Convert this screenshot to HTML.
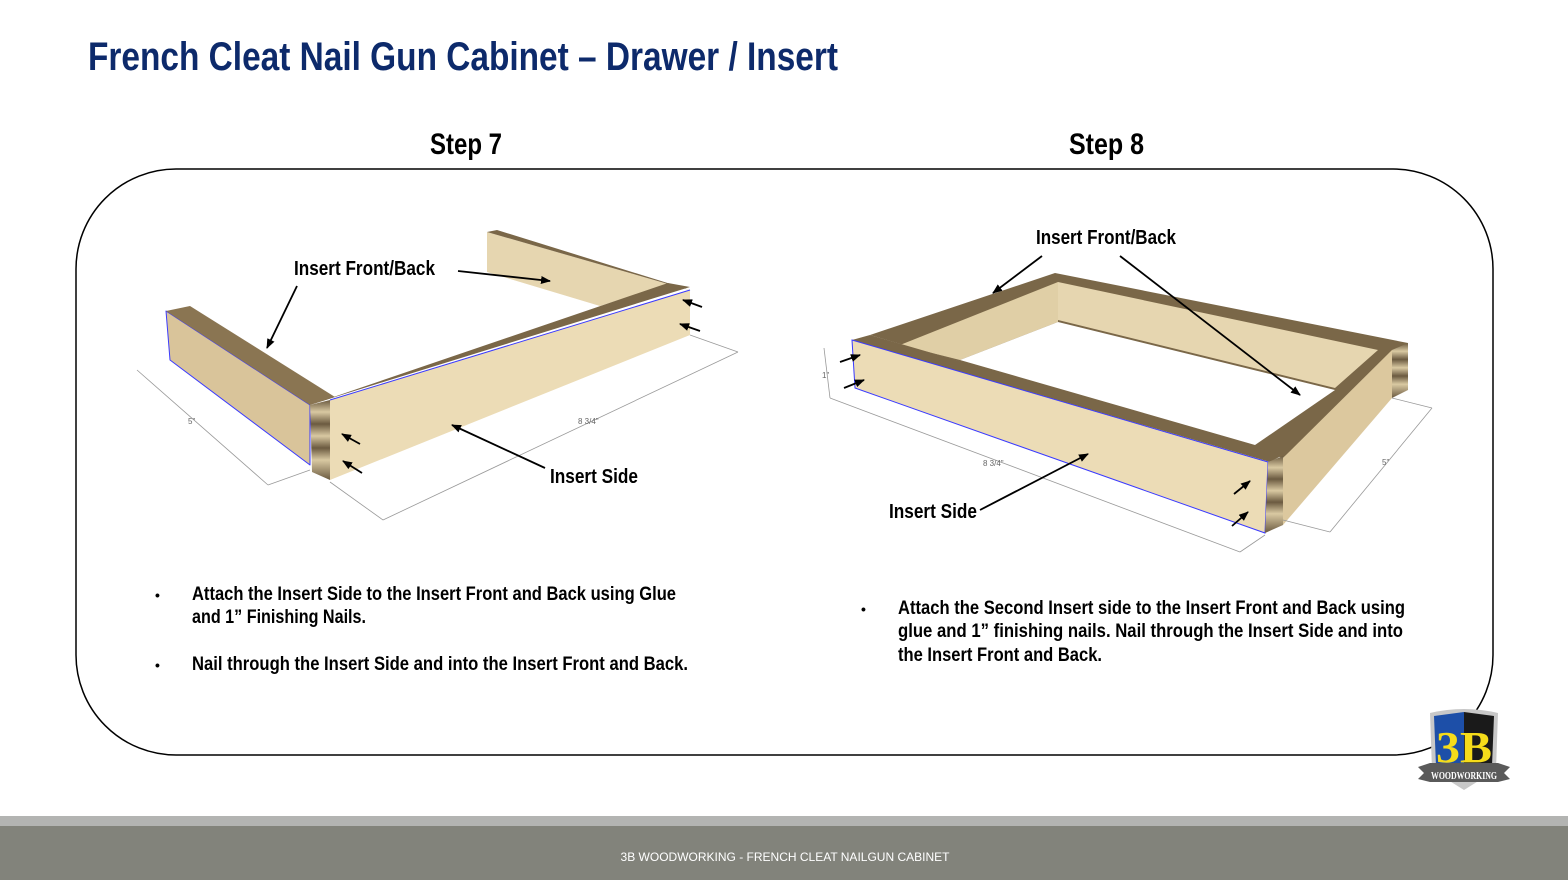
<!DOCTYPE html>
<html><head><meta charset="utf-8"><style>
html,body{margin:0;padding:0;background:#fff;width:1568px;height:880px;overflow:hidden}
svg{display:block}
.c{font-family:"Liberation Sans Narrow","Liberation Sans",sans-serif;font-weight:bold}
</style></head><body>
<svg width="1568" height="880" viewBox="0 0 1568 880" xmlns="http://www.w3.org/2000/svg">
<defs>
<linearGradient id="ply" x1="0" y1="0" x2="0" y2="1">
<stop offset="0" stop-color="#6b5a40"/><stop offset="0.15" stop-color="#d9c9a2"/><stop offset="0.3" stop-color="#6b5a40"/><stop offset="0.45" stop-color="#d9c9a2"/><stop offset="0.6" stop-color="#6b5a40"/><stop offset="0.75" stop-color="#d9c9a2"/><stop offset="1" stop-color="#6b5a40"/>
</linearGradient>
<marker id="ah" markerWidth="10" markerHeight="8" refX="9" refY="4" orient="auto" markerUnits="userSpaceOnUse"><path d="M0,0 L10,4 L0,8 z" fill="#000"/></marker>
</defs>
<text x="88" y="70" class="c" font-size="40" fill="#0d2a6b" textLength="750" lengthAdjust="spacingAndGlyphs">French Cleat Nail Gun Cabinet – Drawer / Insert</text>
<text x="430" y="154" class="c" font-size="30" fill="#000" textLength="72" lengthAdjust="spacingAndGlyphs">Step 7</text>
<text x="1069" y="154" class="c" font-size="30" fill="#000" textLength="75" lengthAdjust="spacingAndGlyphs">Step 8</text>
<rect x="76" y="169" width="1417" height="586" rx="100" fill="none" stroke="#000" stroke-width="1.5"/>

<!-- Step 7 -->
<g stroke-linejoin="round">
<polygon points="487,232 668,284 600,306 487,272" fill="#e6d6b0"/>
<polygon points="487,232 497,230 690,290 668,284" fill="#7a6748"/>
<polygon points="166,311 170,360 310,465 310,405" fill="#d9c49a" stroke="#3a3aff" stroke-width="1"/>
<polygon points="166,311 190,306 335,397 310,405" fill="#8a7552"/>
<polygon points="310,405 335,397 690,287 668,283" fill="#7a6748"/>
<polygon points="310,405 330,400 330,480 312,472" fill="url(#ply)"/>
<polygon points="330,400 690,290 690,335 330,480" fill="#ecdcb6"/>
<line x1="330" y1="400" x2="690" y2="290" stroke="#3a3aff" stroke-width="1"/>
</g>
<g stroke="#999" stroke-width="0.8" fill="none">
<line x1="137" y1="370" x2="268" y2="485"/><line x1="268" y1="485" x2="310" y2="470"/>
<line x1="383" y1="520" x2="738" y2="352"/><line x1="330" y1="482" x2="383" y2="520"/><line x1="690" y1="335" x2="738" y2="352"/>
</g>
<text x="188" y="424" font-family="Liberation Sans" font-size="8" fill="#666">5"</text>
<text x="578" y="424" font-family="Liberation Sans" font-size="8" fill="#666">8 3/4"</text>
<g stroke="#000" stroke-width="1.8" fill="none" marker-end="url(#ah)">
<line x1="297" y1="286" x2="267" y2="348"/>
<line x1="458" y1="271" x2="550" y2="281"/>
<line x1="545" y1="468" x2="452" y2="425"/>
<line x1="360" y1="444" x2="342" y2="434"/>
<line x1="362" y1="473" x2="343" y2="461"/>
<line x1="702" y1="307" x2="683" y2="300"/>
<line x1="700" y1="331" x2="680" y2="324"/>
</g>
<text x="294" y="275" class="c" font-size="20" textLength="141" lengthAdjust="spacingAndGlyphs">Insert Front/Back</text>
<text x="550" y="483" class="c" font-size="20" textLength="88" lengthAdjust="spacingAndGlyphs">Insert Side</text>

<!-- Step 8 -->
<g>
<polygon points="870,335 1055,273 1408,343 1283,458 1255,448" fill="#7a6748"/>
<polygon points="900,345 1058,282 1058,322 960,360" fill="#e0cfa6"/>
<polygon points="1058,282 1378,350 1335,388 1058,320" fill="#e6d6b0"/>
<polygon points="960,360 1058,322 1335,390 1255,445" fill="#fff"/>
<polygon points="1283,458 1392,350 1392,398 1283,525" fill="#dcc89e"/>
<polygon points="1392,350 1408,343 1408,390 1392,398" fill="url(#ply)"/>
<polygon points="852,340 870,335 1283,455 1270,462" fill="#7a6748"/>
<polygon points="852,340 1268,462 1265,533 855,388" fill="#ecdcb6" stroke="#3a3aff" stroke-width="1"/>
<polygon points="1268,462 1283,456 1283,525 1265,533" fill="url(#ply)"/>
</g>
<g stroke="#999" stroke-width="0.8" fill="none">
<line x1="824" y1="348" x2="830" y2="398"/><line x1="830" y1="398" x2="1240" y2="552"/><line x1="1240" y1="552" x2="1265" y2="535"/>
<line x1="1330" y1="532" x2="1432" y2="408"/><line x1="1283" y1="520" x2="1330" y2="532"/><line x1="1392" y1="398" x2="1432" y2="408"/>
</g>
<text x="822" y="378" font-family="Liberation Sans" font-size="8" fill="#666">1"</text>
<text x="983" y="466" font-family="Liberation Sans" font-size="8" fill="#666">8 3/4"</text>
<text x="1382" y="465" font-family="Liberation Sans" font-size="8" fill="#666">5"</text>
<g stroke="#000" stroke-width="1.8" fill="none" marker-end="url(#ah)">
<line x1="1042" y1="256" x2="993" y2="293"/>
<line x1="1120" y1="256" x2="1300" y2="395"/>
<line x1="980" y1="510" x2="1088" y2="454"/>
<line x1="840" y1="362" x2="860" y2="355"/>
<line x1="844" y1="388" x2="864" y2="380"/>
<line x1="1234" y1="494" x2="1250" y2="481"/>
<line x1="1232" y1="526" x2="1248" y2="512"/>
</g>
<text x="1036" y="244" class="c" font-size="20" textLength="140" lengthAdjust="spacingAndGlyphs">Insert Front/Back</text>
<text x="889" y="518" class="c" font-size="20" textLength="88" lengthAdjust="spacingAndGlyphs">Insert Side</text>

<!-- bullets -->
<g class="c" font-size="19" fill="#000">
<text x="155" y="600" font-size="14">•</text>
<text x="192" y="600" textLength="484" lengthAdjust="spacingAndGlyphs">Attach the Insert Side to the Insert Front and Back using Glue</text>
<text x="192" y="623" textLength="174" lengthAdjust="spacingAndGlyphs">and 1” Finishing Nails.</text>
<text x="155" y="670" font-size="14">•</text>
<text x="192" y="670" textLength="496" lengthAdjust="spacingAndGlyphs">Nail through the Insert Side and into the Insert Front and Back.</text>
<text x="861" y="614" font-size="14">•</text>
<text x="898" y="614" textLength="507" lengthAdjust="spacingAndGlyphs">Attach the Second Insert side to the Insert Front and Back using</text>
<text x="898" y="637" textLength="505" lengthAdjust="spacingAndGlyphs">glue and 1” finishing nails.  Nail through the Insert Side and into</text>
<text x="898" y="661" textLength="204" lengthAdjust="spacingAndGlyphs">the Insert Front and Back.</text>
</g>

<!-- logo -->
<path d="M1430,713 Q1464,705 1498,713 L1496,770 L1464,790 L1432,770 Z" fill="#c8c8c8"/>
<path d="M1434,716 L1464,712 L1464,780 L1436,766 Z" fill="#1d4fa8"/>
<path d="M1464,712 L1494,716 L1492,766 L1464,780 Z" fill="#1a1a1a"/>
<text x="1464" y="762" text-anchor="middle" font-family="Liberation Serif" font-weight="bold" font-size="44" fill="#f5dc1a" textLength="56" lengthAdjust="spacingAndGlyphs">3B</text>
<polygon points="1418,767 1430,763 1498,763 1510,767 1504,773 1510,779 1498,782 1430,782 1418,779 1424,773" fill="#5a5a5a"/>
<text x="1464" y="779" text-anchor="middle" font-family="Liberation Serif" font-weight="bold" font-size="10" fill="#fff" textLength="66" lengthAdjust="spacingAndGlyphs">WOODWORKING</text>

<!-- footer -->
<rect x="0" y="816" width="1568" height="10" fill="#b3b4b2"/>
<rect x="0" y="826" width="1568" height="54" fill="#82837b"/>
<text x="785" y="861" text-anchor="middle" font-family="Liberation Sans" font-size="12" fill="#fff">3B WOODWORKING - FRENCH CLEAT NAILGUN CABINET</text>
</svg>
</body></html>
